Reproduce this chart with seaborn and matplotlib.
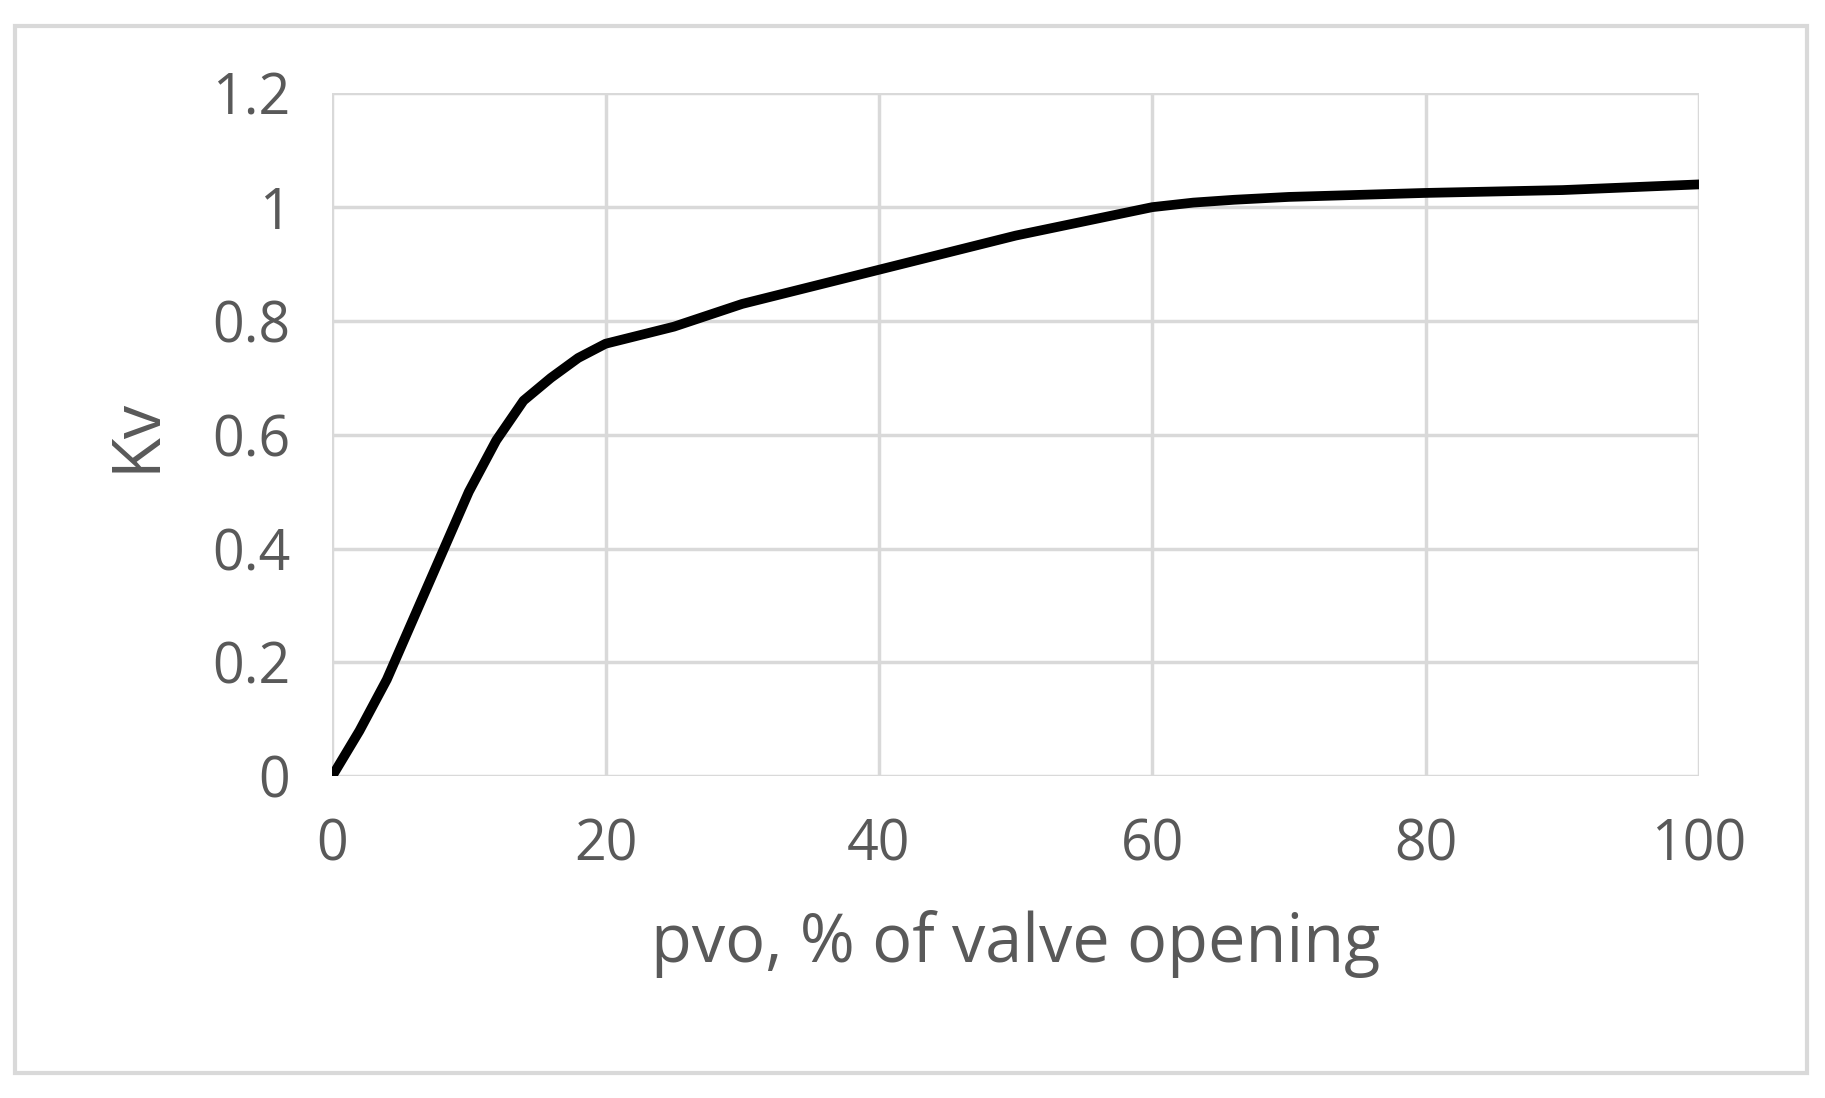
import matplotlib
matplotlib.use("Agg")
import matplotlib.pyplot as plt
import seaborn as sns
import pandas as pd
from matplotlib.patches import Rectangle

pvo = [0, 2, 4, 6, 8, 10, 12, 14, 16, 18, 20, 25, 30, 35, 40, 50, 60, 63, 66, 70, 80, 90, 100]
kv = [0, 0.08, 0.17, 0.28, 0.39, 0.50, 0.59, 0.66, 0.70, 0.735, 0.76, 0.79, 0.83, 0.86, 0.89, 0.95, 1.0, 1.008, 1.013, 1.018, 1.025, 1.03, 1.04]
df = pd.DataFrame({"pvo": pvo, "kv": kv})

sns.set_theme(style="white")
plt.rcParams['font.family'] = ['Open Sans', 'DejaVu Sans']
fig = plt.figure(figsize=(18.25, 10.98), dpi=100)
fig.patches.append(Rectangle((0.008, 0.023), 0.982, 0.953, transform=fig.transFigure,
                             fill=False, edgecolor="#d9d9d9", linewidth=3))
ax = fig.add_axes([0.182, 0.293, 0.749, 0.622])
sns.lineplot(data=df, x="pvo", y="kv", ax=ax, color="black", linewidth=7,
             solid_capstyle="round", solid_joinstyle="round")
ax.set_xlim(0, 100)
ax.set_ylim(0, 1.2)
ax.set_xticks([0, 20, 40, 60, 80, 100])
ax.set_yticks([0, 0.2, 0.4, 0.6, 0.8, 1.0, 1.2])
ax.set_yticklabels(["0", "0.2", "0.4", "0.6", "0.8", "1", "1.2"])
ax.grid(True, color="#d9d9d9", linewidth=2.5)
for s in ax.spines.values():
    s.set_visible(False)
ax.tick_params(labelsize=40, colors="#595959", length=0, pad=30)
ax.set_xlabel("pvo, % of valve opening", fontsize=48, color="#595959", labelpad=25)
ax.set_ylabel("Kv", fontsize=48, color="#595959", labelpad=30)
fig.savefig("out.png", dpi=100)
